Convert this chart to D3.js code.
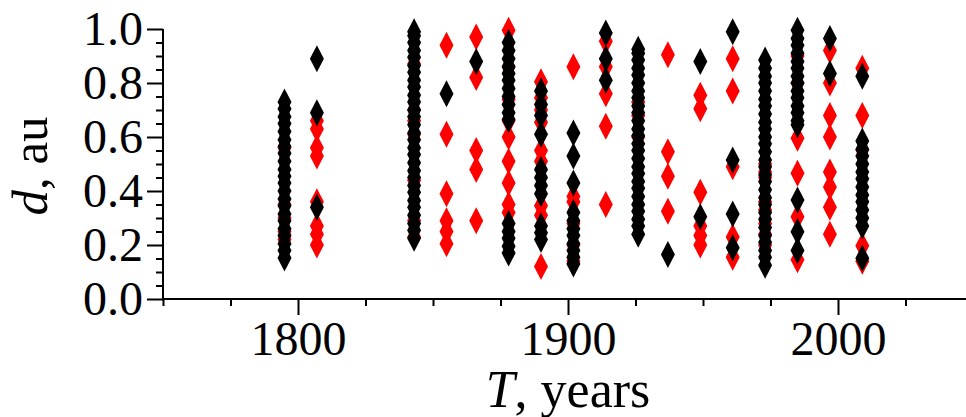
<!DOCTYPE html>
<html>
<head>
<meta charset="utf-8">
<script src="https://cdn.jsdelivr.net/npm/d3@7/dist/d3.min.js"></script>
<style>
  html, body { margin: 0; padding: 0; background: #fff; }
  svg { display: block; }
  text { font-family: "Liberation Serif", "Times New Roman", serif; fill: #000; }
</style>
</head>
<body>
<script>
// Epochs (years) of each group of measurements
const years = [1795, 1807, 1843, 1855, 1866, 1878, 1890, 1902, 1914, 1926, 1937, 1949, 1961, 1973, 1985, 1997, 2009];

// Distances d (au) for the black series, one list per epoch
const blackD = [
  [0.152,0.18,0.205,0.235,0.26,0.29,0.315,0.345,0.37,0.40,0.43,0.455,0.48,0.51,0.54,0.565,0.59,0.62,0.65,0.675,0.705,0.73],
  [0.89,0.69,0.34],
  [0.225,0.255,0.28,0.31,0.34,0.365,0.395,0.42,0.45,0.475,0.505,0.535,0.56,0.59,0.615,0.645,0.675,0.70,0.73,0.755,0.785,0.81,0.84,0.865,0.895,0.92,0.95,0.975,0.99],
  [0.76],
  [0.88],
  [0.95,0.92,0.89,0.86,0.835,0.81,0.78,0.75,0.72,0.69,0.665,0.28,0.25,0.225,0.195,0.17],
  [0.77,0.72,0.68,0.61,0.48,0.45,0.42,0.39,0.27,0.245,0.22],
  [0.615,0.53,0.43,0.32,0.29,0.26,0.235,0.205,0.18,0.155,0.13],
  [0.985,0.89,0.81],
  [0.24,0.27,0.295,0.325,0.35,0.38,0.41,0.435,0.465,0.49,0.52,0.55,0.575,0.605,0.63,0.66,0.69,0.715,0.745,0.77,0.80,0.83,0.855,0.885,0.91,0.925],
  [0.165],
  [0.88,0.305],
  [0.99,0.515,0.315,0.19],
  [0.125,0.155,0.18,0.21,0.235,0.265,0.295,0.32,0.35,0.375,0.405,0.435,0.46,0.49,0.515,0.545,0.575,0.60,0.63,0.655,0.685,0.715,0.74,0.77,0.80,0.825,0.855,0.885],
  [0.995,0.965,0.94,0.91,0.88,0.855,0.825,0.80,0.77,0.745,0.715,0.69,0.66,0.645,0.367,0.249,0.18],
  [0.965,0.835],
  [0.825,0.585,0.555,0.53,0.50,0.47,0.445,0.415,0.385,0.36,0.33,0.30,0.27,0.151]
];

// Distances d (au) for the red series, one list per epoch
const redD = [
  [0.22,0.25,0.30,0.35,0.56],
  [0.66,0.63,0.56,0.53,0.36,0.27,0.24,0.20],
  [0.23,0.29,0.44,0.61,0.66,0.70,0.87],
  [0.94,0.61,0.39,0.29,0.25,0.205],
  [0.97,0.82,0.55,0.48,0.29],
  [0.995,0.86,0.74,0.66,0.60,0.51,0.43,0.35,0.32],
  [0.805,0.745,0.70,0.655,0.55,0.51,0.345,0.31,0.12],
  [0.86,0.38,0.36,0.28,0.20,0.14],
  [0.955,0.86,0.76,0.64,0.35],
  [0.73,0.68,0.60],
  [0.905,0.545,0.455,0.325],
  [0.755,0.705,0.395,0.27,0.235,0.20],
  [0.89,0.77,0.49,0.23,0.155],
  [0.50,0.47,0.45,0.36,0.33,0.28,0.24,0.20],
  [0.90,0.80,0.595,0.466,0.305,0.145],
  [0.92,0.80,0.68,0.60,0.47,0.415,0.34,0.24],
  [0.855,0.68,0.552,0.197,0.14]
];

// Axis tick values
const xMajorTicks = [1800, 1900, 2000];
const xMinorTicks = [1750, 1775, 1825, 1850, 1875, 1925, 1950, 1975, 2025];
const yMajorTicks = [0.0, 0.2, 0.4, 0.6, 0.8, 1.0];
const yMinorTicks = [0.05, 0.1, 0.15, 0.25, 0.3, 0.35, 0.45, 0.5, 0.55, 0.65, 0.7, 0.75, 0.85, 0.9, 0.95];

const W = 966, H = 417;
const svg = d3.select("body").append("svg").attr("width", W).attr("height", H);
svg.append("rect").attr("width", W).attr("height", H).attr("fill", "#fff");

const x = d3.scaleLinear().domain([1750, 2050]).range([163, 973]);
const y = d3.scaleLinear().domain([0, 1]).range([299, 29]);

// Diamond marker
const diamond = "M0,-13.5L7,0L0,13.5L-7,0Z";

function flatten(lists) {
  const out = [];
  lists.forEach((vals, i) => vals.forEach(v => out.push({ t: years[i], d: v })));
  return out;
}

const marks = svg.append("g");
marks.selectAll("path.red").data(flatten(redD)).join("path")
  .attr("class", "red")
  .attr("d", diamond)
  .attr("fill", "#ff0000")
  .attr("transform", p => `translate(${x(p.t)},${y(p.d)})`);
marks.selectAll("path.black").data(flatten(blackD)).join("path")
  .attr("class", "black")
  .attr("d", diamond)
  .attr("fill", "#000")
  .attr("transform", p => `translate(${x(p.t)},${y(p.d)})`);

// Axes
const fontSize = 48;
const xAxisMinor = svg.append("g").attr("transform", `translate(0,${y(0)})`)
  .call(d3.axisBottom(x).tickValues(xMinorTicks).tickSize(7).tickSizeOuter(0).tickFormat(""));
const xAxis = svg.append("g").attr("transform", `translate(0,${y(0)})`)
  .call(d3.axisBottom(x).tickValues(xMajorTicks).tickSize(16).tickSizeOuter(0).tickPadding(6).tickFormat(d3.format("d")));
const yAxisMinor = svg.append("g").attr("transform", `translate(${x(1750)},0)`)
  .call(d3.axisLeft(y).tickValues(yMinorTicks).tickSize(7).tickSizeOuter(0).tickFormat(""));
const yAxis = svg.append("g").attr("transform", `translate(${x(1750)},0)`)
  .call(d3.axisLeft(y).tickValues(yMajorTicks).tickSize(16).tickSizeOuter(0).tickPadding(4).tickFormat(d3.format(".1f")));

[xAxisMinor, xAxis, yAxisMinor, yAxis].forEach(g => {
  g.select(".domain").attr("stroke", "#000").attr("stroke-width", 2);
  g.selectAll(".tick line").attr("stroke", "#000").attr("stroke-width", 2);
  g.selectAll(".tick text").attr("font-family", "Liberation Serif, serif").attr("font-size", fontSize).attr("fill", "#000");
});
yAxisMinor.select(".domain").attr("d", `M0,${y(0)}V${y(1)}`);
yAxis.select(".domain").attr("d", `M0,${y(0)}V${y(1)}`);
xAxis.select(".domain").attr("d", `M${x(1750)},0H${W}`);
xAxisMinor.select(".domain").attr("d", `M${x(1750)},0H${W}`);

// Axis titles
const xTitle = svg.append("text")
  .attr("x", 568).attr("y", 407)
  .attr("text-anchor", "middle")
  .attr("font-size", 52);
xTitle.append("tspan").attr("font-style", "italic").text("T");
xTitle.append("tspan").text(", years");

const yTitle = svg.append("text")
  .attr("transform", "translate(47,166) rotate(-90)")
  .attr("text-anchor", "middle")
  .attr("font-size", 51);
yTitle.append("tspan").attr("font-style", "italic").text("d");
yTitle.append("tspan").text(", au");
</script>
</body>
</html>
